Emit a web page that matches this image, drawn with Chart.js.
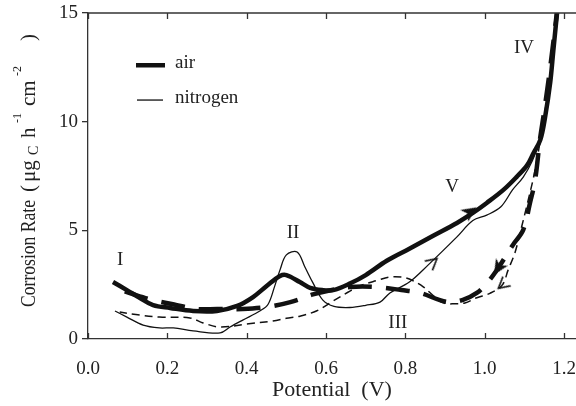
<!DOCTYPE html>
<html>
<head>
<meta charset="utf-8">
<script src="https://cdnjs.cloudflare.com/ajax/libs/Chart.js/4.4.1/chart.umd.min.js"></script>
<style>
  html, body { margin: 0; padding: 0; background: #fff; }
  #wrap { width: 576px; height: 406px; position: relative; }
</style>
</head>
<body>
<div id="wrap"><canvas id="chart" width="576" height="406"></canvas></div>
<script>
// values (potential in V, rate in ugC h-1 cm-2)
const airFwdX = [0.063, 0.098, 0.131, 0.164, 0.207, 0.265, 0.325, 0.376, 0.416, 0.451, 0.484, 0.50, 0.534, 0.56, 0.59, 0.618, 0.66, 0.70, 0.753, 0.81, 0.87, 0.93, 0.97, 1.005, 1.047, 1.08, 1.107, 1.123, 1.14, 1.152, 1.165, 1.173, 1.185];
const airFwdY = [2.62, 2.25, 1.89, 1.56, 1.43, 1.29, 1.29, 1.52, 1.93, 2.45, 2.9, 2.94, 2.62, 2.35, 2.25, 2.25, 2.55, 2.94, 3.6, 4.15, 4.75, 5.34, 5.8, 6.26, 6.86, 7.45, 8.0, 8.56, 9.16, 10.2, 11.8, 13.3, 15.5];

const airRevX = [1.185, 1.165, 1.15, 1.139, 1.127, 1.114, 1.097, 1.071, 1.034, 1.006, 0.98, 0.945, 0.913, 0.887, 0.837, 0.79, 0.728, 0.66, 0.60, 0.567, 0.51, 0.45, 0.39, 0.325, 0.275, 0.224, 0.164, 0.113, 0.068];
const airRevY = [15.5, 12.5, 10.5, 9.16, 7.32, 6.26, 5.02, 4.33, 3.27, 2.58, 2.12, 1.8, 1.7, 1.79, 2.12, 2.25, 2.39, 2.39, 2.2, 2.05, 1.7, 1.47, 1.38, 1.38, 1.38, 1.56, 1.79, 2.07, 2.35];

const n2FwdX = [0.068, 0.098, 0.139, 0.18, 0.215, 0.265, 0.333, 0.358, 0.39, 0.434, 0.454, 0.47, 0.484, 0.50, 0.527, 0.547, 0.567, 0.592, 0.62, 0.66, 0.70, 0.736, 0.761, 0.81, 0.857, 0.93, 0.97, 1.005, 1.04, 1.07, 1.097, 1.12, 1.14, 1.155, 1.168, 1.185];
const n2FwdY = [1.29, 1.01, 0.64, 0.51, 0.51, 0.37, 0.28, 0.55, 0.87, 1.3, 1.6, 2.4, 3.18, 3.87, 4.0, 3.3, 2.58, 1.79, 1.5, 1.45, 1.55, 1.7, 2.12, 2.62, 3.4, 4.7, 5.45, 5.7, 6.07, 6.86, 7.45, 8.2, 9.2, 10.5, 12.5, 15.5];

const n2RevX = [1.185, 1.165, 1.152, 1.127, 1.107, 1.089, 1.076, 1.059, 1.044, 1.013, 0.98, 0.95, 0.925, 0.895, 0.87, 0.845, 0.81, 0.79, 0.76, 0.73, 0.686, 0.655, 0.618, 0.577, 0.534, 0.50, 0.466, 0.40, 0.333, 0.29, 0.257, 0.18, 0.131, 0.08];
const n2RevY = [15.5, 12.0, 10.5, 7.8, 6.2, 4.88, 3.96, 3.18, 2.48, 2.1, 1.9, 1.66, 1.62, 1.66, 2.0, 2.4, 2.76, 2.85, 2.85, 2.7, 2.45, 2.15, 1.75, 1.3, 1.05, 0.95, 0.83, 0.69, 0.55, 0.74, 0.97, 1.01, 1.1, 1.24];

// arrowheads on the curves: position and heading (degrees, clockwise)
const thickArrowX = [0.963, 1.034];
const thickArrowY = [5.85, 3.27];
const thickArrowAngle = [-34, 122];
const thinArrowX = [0.87, 1.044];
const thinArrowY = [3.55, 2.48];
const thinArrowAngle = [-40, 140];

// region labels
const regionText = ['I', 'II', 'III', 'IV', 'V'];
const regionX = [0.081, 0.517, 0.781, 1.099, 0.918];
const regionY = [3.64, 4.88, 0.75, 13.4, 7.0];

const xTickStep = 0.2;
const yTicks = [0, 5, 10, 15];

const INK = '#111';
const TEXT = '#222';
const SERIF = '"Liberation Serif", "DejaVu Serif", serif';

function pts(xs, ys) { return xs.map((x, i) => ({ x, y: ys[i] })); }

function arrowImage(filled) {
  const c = document.createElement('canvas');
  c.width = 18; c.height = 18;
  const g = c.getContext('2d');
  g.strokeStyle = INK; g.fillStyle = INK;
  if (filled) {
    g.beginPath();
    g.moveTo(2, 2); g.lineTo(17, 9); g.lineTo(2, 16); g.lineTo(6, 9); g.closePath();
    g.fill();
  } else {
    g.lineWidth = 1.6;
    g.beginPath();
    g.moveTo(3, 3); g.lineTo(14, 9); g.lineTo(3, 15);
    g.stroke();
  }
  return c;
}

const extras = {
  id: 'extras',
  afterDraw(chart) {
    const { ctx, chartArea: a, scales: { x, y } } = chart;
    ctx.save();
    ctx.setLineDash([]);
    ctx.strokeStyle = '#333';
    ctx.lineWidth = 1.3;
    // top frame line
    ctx.beginPath();
    ctx.moveTo(a.left, a.top); ctx.lineTo(a.right, a.top);
    ctx.stroke();
    // inward ticks on top and bottom
    for (let v = 0; v <= 1.2001; v += xTickStep) {
      const px = Math.round(x.getPixelForValue(v)) + 0.5;
      ctx.beginPath();
      ctx.moveTo(px, a.bottom); ctx.lineTo(px, a.bottom - 6);
      ctx.moveTo(px, a.top); ctx.lineTo(px, a.top + 6);
      ctx.stroke();
    }

    // legend (solid swatches)
    ctx.fillStyle = INK;
    ctx.fillRect(136, 63, 29, 4.5);
    ctx.fillRect(137, 99.4, 26, 1.3);
    ctx.fillStyle = TEXT;
    ctx.font = '19px ' + SERIF;
    ctx.textBaseline = 'middle';
    ctx.textAlign = 'left';
    ctx.fillText('air', 175, 63);
    ctx.fillText('nitrogen', 175, 98);

    // region labels
    ctx.textAlign = 'center';
    regionText.forEach((t, i) => {
      ctx.fillText(t, x.getPixelForValue(regionX[i]), y.getPixelForValue(regionY[i]));
    });

    // y title with sub/superscripts, pieces placed along the rotated line
    const parts = [
      ['Corrosion Rate', 0, 21, 0, 107],
      ['(', 115, 21, 0, 7],
      ['\u03bcg', 125, 21, 0, 25],
      ['C', 152, 14, 3, 10],
      ['h', 169, 21, 0, 12],
      ['-1', 184, 13, -14, 10],
      ['cm', 201, 21, 0, 28],
      ['-2', 231, 13, -14, 10],
      [')', 266, 21, 0, 7]
    ];
    ctx.translate(35, 307);
    ctx.rotate(-Math.PI / 2);
    ctx.textAlign = 'left';
    ctx.textBaseline = 'alphabetic';
    parts.forEach(p => {
      ctx.font = p[2] + 'px ' + SERIF;
      ctx.fillText(p[0], p[1], p[3], p[4]);
    });
    ctx.restore();
  }
};

const thickArrow = arrowImage(true);
const thinArrow = arrowImage(false);

new Chart(document.getElementById('chart'), {
  type: 'line',
  data: {
    datasets: [
      { label: 'air', data: pts(airFwdX, airFwdY), borderColor: INK, borderWidth: 4.5, tension: 0.35, pointRadius: 0 },
      { label: 'air reverse', data: pts(airRevX, airRevY), borderColor: INK, borderWidth: 4.5, borderDash: [24, 14], tension: 0.35, pointRadius: 0 },
      { label: 'nitrogen', data: pts(n2FwdX, n2FwdY), borderColor: INK, borderWidth: 1.3, tension: 0.35, pointRadius: 0 },
      { label: 'nitrogen reverse', data: pts(n2RevX, n2RevY), borderColor: INK, borderWidth: 1.5, borderDash: [8, 5], tension: 0.35, pointRadius: 0 },
      { type: 'scatter', data: pts(thickArrowX, thickArrowY), pointStyle: thickArrow, rotation: thickArrowAngle, pointRadius: 9, showLine: false },
      { type: 'scatter', data: pts(thinArrowX, thinArrowY), pointStyle: thinArrow, rotation: thinArrowAngle, pointRadius: 9, showLine: false }
    ]
  },
  options: {
    responsive: false,
    animation: false,
    events: [],
    layout: { autoPadding: false, padding: { top: 13, right: 0, left: 0, bottom: 0 } },
    plugins: { legend: { display: false }, tooltip: { enabled: false } },
    scales: {
      x: {
        type: 'linear',
        min: 0,
        max: 1.23,
        afterFit(s) { s.height = 67; s.paddingLeft = 0; s.paddingRight = 0; },
        grid: { display: false },
        border: { display: true, color: '#333', width: 1.3 },
        ticks: {
          stepSize: xTickStep,
          includeBounds: false,
          padding: 11,
          color: TEXT,
          font: { family: SERIF, size: 19 },
          maxRotation: 0,
          callback: v => v.toFixed(1)
        },
        title: { display: true, text: 'Potential  (V)', color: TEXT, font: { family: SERIF, size: 22 }, padding: { top: 0, bottom: 3 } }
      },
      y: {
        min: 0,
        max: 15,
        afterFit(s) { s.width = 88; s.paddingTop = 0; s.paddingBottom = 0; },
        afterBuildTicks(s) { s.ticks = yTicks.map(v => ({ value: v })); },
        grid: { display: true, drawOnChartArea: false, drawTicks: true, tickLength: 6, color: '#333', lineWidth: 1.3 },
        border: { display: true, color: '#333', width: 1.3 },
        ticks: { padding: 4, color: TEXT, font: { family: SERIF, size: 19 } }
      }
    }
  },
  plugins: [extras]
});
</script>
</body>
</html>
